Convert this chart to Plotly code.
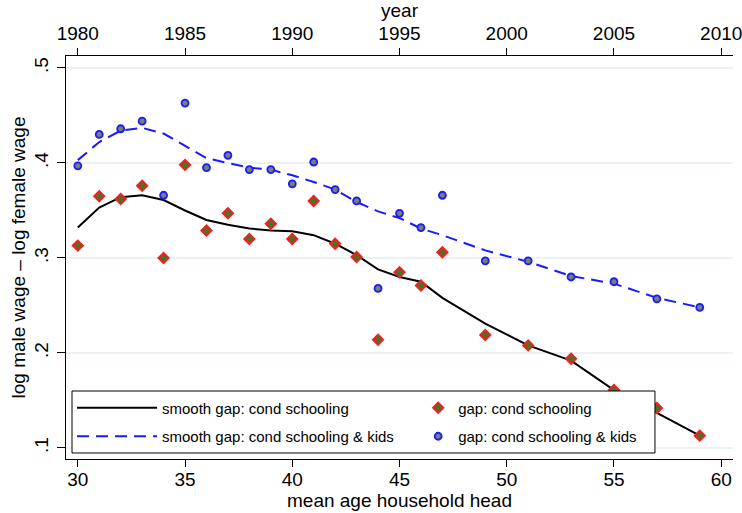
import plotly.graph_objects as go

age = [30, 31, 32, 33, 34, 35, 36, 37, 38, 39, 40, 41, 42, 43, 44, 45, 46, 47, 49, 51, 53, 55, 57, 59]
gap_school = [0.313, 0.365, 0.362, 0.376, 0.300, 0.398, 0.329, 0.347, 0.320, 0.336, 0.320, 0.360,
              0.315, 0.301, 0.214, 0.285, 0.271, 0.306, 0.219, 0.208, 0.194, 0.161, 0.142, 0.113]
gap_kids = [0.397, 0.430, 0.436, 0.444, 0.366, 0.463, 0.395, 0.408, 0.393, 0.393, 0.378, 0.401,
            0.372, 0.360, 0.268, 0.347, 0.332, 0.366, 0.297, 0.297, 0.280, 0.275, 0.257, 0.248]
smooth_school = [0.332, 0.353, 0.364, 0.366, 0.361, 0.350, 0.340, 0.335, 0.331, 0.329, 0.328, 0.324,
                 0.315, 0.303, 0.288, 0.280, 0.275, 0.258, 0.231, 0.208, 0.192, 0.161, 0.137, 0.113]
smooth_kids = [0.403, 0.422, 0.434, 0.437, 0.431, 0.418, 0.405, 0.400, 0.395, 0.393, 0.387, 0.380,
               0.372, 0.359, 0.349, 0.342, 0.331, 0.324, 0.308, 0.296, 0.281, 0.273, 0.258, 0.248]
year_ticks = [1980, 1985, 1990, 1995, 2000, 2005, 2010]
age_ticks = [30, 35, 40, 45, 50, 55, 60]
y_ticks = [0.1, 0.2, 0.3, 0.4, 0.5]
y_labels = [".1", ".2", ".3", ".4", ".5"]

FONT = "Liberation Sans, Arial, sans-serif"

fig = go.Figure()
fig.add_trace(go.Scatter(x=age, y=smooth_school, mode="lines", name="smooth gap: cond schooling",
                         line=dict(color="black", width=2), legend="legend", legendgroup="a"))
fig.add_trace(go.Scatter(x=age, y=gap_school, mode="markers", name="gap: cond schooling",
                         marker=dict(symbol="diamond", size=8, color="#4f6f2a",
                                     line=dict(color="#ff1a1a", width=1.8)),
                         legend="legend2", legendgroup="b"))
fig.add_trace(go.Scatter(x=age, y=smooth_kids, mode="lines", name="smooth gap: cond schooling & kids",
                         line=dict(color="#1a1aff", width=2, dash="12px,7px"),
                         legend="legend", legendgroup="c"))
fig.add_trace(go.Scatter(x=age, y=gap_kids, mode="markers", name="gap: cond schooling & kids",
                         marker=dict(symbol="circle", size=7, color="#76806f",
                                     line=dict(color="#1a1aff", width=1.8)),
                         legend="legend2", legendgroup="d"))
# invisible trace to carry the top (year) axis
fig.add_trace(go.Scatter(x=[a + 1950 for a in age], y=gap_school, xaxis="x2", mode="markers",
                         marker=dict(opacity=0), showlegend=False, hoverinfo="skip"))

legend_common = dict(orientation="v", xanchor="left", yanchor="top", y=0.1675,
                     bgcolor="rgba(0,0,0,0)", borderwidth=0, font=dict(size=15),
                     tracegroupgap=6, traceorder="grouped")

fig.update_layout(
    width=742, height=513,
    margin=dict(l=66, r=9, t=56, b=54),
    paper_bgcolor="white", plot_bgcolor="white",
    font=dict(family=FONT, size=19, color="black"),
    xaxis=dict(range=[29.45, 60.55], tickvals=age_ticks, ticks="outside", ticklen=7,
               tickcolor="black", showline=True, linecolor="black", linewidth=1,
               showgrid=False, zeroline=False, automargin=False, ticklabelstandoff=-4,
               title=dict(text="mean age household head", font=dict(size=19), standoff=0),
               tickfont=dict(size=19)),
    xaxis2=dict(range=[1979.45, 2010.55], tickvals=year_ticks, overlaying="x", side="top",
                ticks="outside", ticklen=7, tickcolor="black", showline=True, linecolor="black",
                linewidth=1, showgrid=False, zeroline=False, ticklabeloverflow="allow",
                automargin=False,
                title=dict(text="year", font=dict(size=19), standoff=0),
                tickfont=dict(size=19)),
    yaxis=dict(range=[0.0884, 0.5126], tickvals=y_ticks, ticktext=y_labels, tickangle=-90,
               ticks="outside", ticklen=8, tickcolor="black", showline=True, linecolor="black",
               linewidth=1, showgrid=True, gridcolor="#eaf2f3", gridwidth=1.5, zeroline=False,
               automargin=False, ticklabelstandoff=1,
               title=dict(text="log male wage \u2013 log female wage", font=dict(size=19), standoff=0),
               tickfont=dict(size=19)),
    legend=dict(x=0.009, itemwidth=80, **legend_common),
    legend2=dict(x=0.528, itemwidth=30, **legend_common),
    shapes=[dict(type="rect", xref="paper", yref="paper", x0=0.009, x1=0.883, y0=0.0149, y1=0.1687,
                 line=dict(color="black", width=1), fillcolor="white", layer="above")],
    showlegend=True,
)

fig.write_html("out.html", config={"displayModeBar": False},
               post_script="document.body.style.margin='0';document.body.style.padding='0';")
